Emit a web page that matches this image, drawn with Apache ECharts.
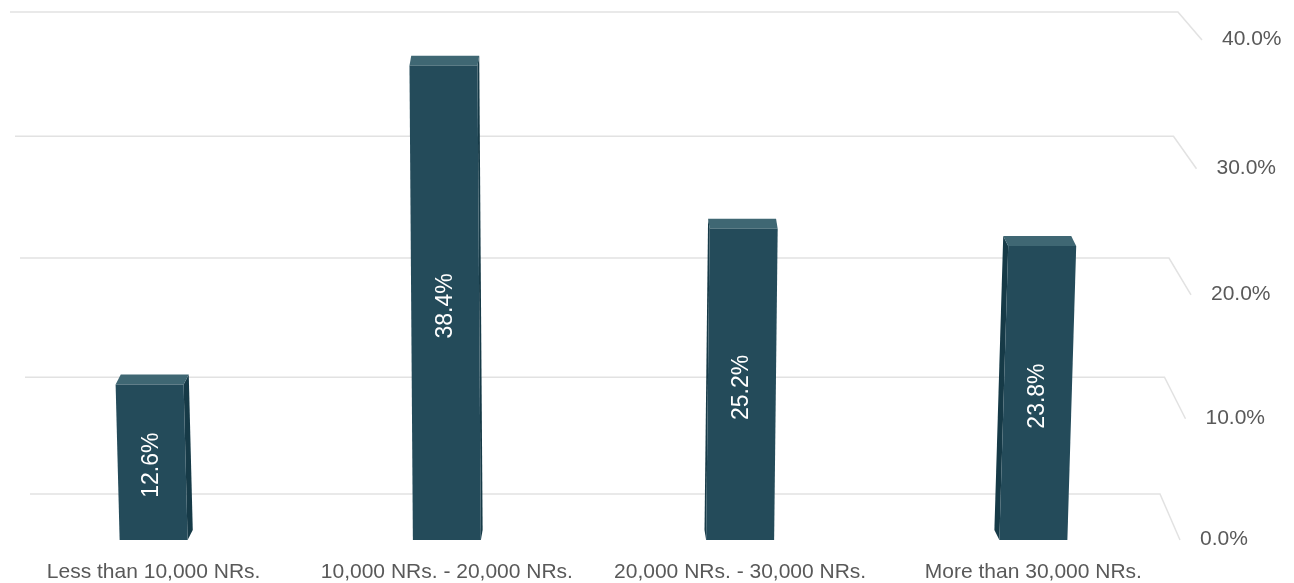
<!DOCTYPE html>
<html>
<head>
<meta charset="utf-8">
<script src="https://cdn.jsdelivr.net/npm/echarts@6/dist/echarts.min.js"></script>
<style>
html,body{margin:0;padding:0;background:#fff;}
#chart{width:1294px;height:583px;}
</style>
</head>
<body>
<div id="chart"></div>
<script>
const categories = ['Less than 10,000 NRs.', '10,000 NRs. - 20,000 NRs.', '20,000 NRs. - 30,000 NRs.', 'More than 30,000 NRs.'];
const values = [12.6, 38.4, 25.2, 23.8];
const yTicks = [0, 10, 20, 30, 40];
const yTickLabels = ['0.0%', '10.0%', '20.0%', '30.0%', '40.0%'];

const FONT = '"Liberation Sans", Arial, sans-serif';

function renderWall(params, api) {
  const cs = params.coordSys;
  const bottom = cs.y + cs.height;
  const right = cs.x + cs.width;
  const v = api.value(1);
  const idx = api.value(2);
  const fy = api.coord([0, v])[1];
  const lin = bottom - fy;
  const frontDrop = 0.9717 * lin + 8.2e-5 * lin * lin;
  const backDrop = 0.9352 * lin + 8.2e-5 * lin * lin;
  const frontX = right + lin * 0.0445;
  const frontY = bottom - frontDrop;
  const backY = bottom - 46 - backDrop;
  const backX = right - 20 + lin * 0.0364;
  const leftX = cs.x + 23 - lin * 0.0405;
  return {
    type: 'group',
    children: [
      {
        type: 'polyline',
        shape: { points: [[leftX, backY], [backX, backY], [frontX, frontY]] },
        style: { stroke: '#e2e2e2', lineWidth: 1.5, fill: null }
      },
      {
        type: 'text',
        x: frontX + 20,
        y: frontY - 0.5,
        style: { text: yTickLabels[idx], fill: '#595959', font: '21px ' + FONT, align: 'left', verticalAlign: 'middle' }
      }
    ]
  };
}

function renderBar(params, api) {
  const i = api.value(0);
  const v = api.value(1);
  const b = api.coord([i, 0]);
  const tp = api.coord([i, v]);
  const cx = b[0];
  const by = b[1];
  const ty = tp[1];
  const h = by - ty;
  const hw = 34;
  const shift = (cx - 560) * 6.35e-5 * h;
  const BL = [cx - hw, by], BR = [cx + hw, by];
  const TL = [cx - hw + shift, ty], TR = [cx + hw + shift, ty];
  const dx = (600 - cx) * 0.0115;
  const dy = -10;
  const add = (p) => [p[0] + dx, p[1] + dy];
  const children = [];
  if (dx > 0.5) {
    children.push({ type: 'polygon', shape: { points: [BR, TR, add(TR), add(BR)] }, style: { fill: '#163a47' } });
  } else if (dx < -0.5) {
    children.push({ type: 'polygon', shape: { points: [BL, TL, add(TL), add(BL)] }, style: { fill: '#163a47' } });
  }
  children.push({ type: 'polygon', shape: { points: [TL, TR, add(TR), add(TL)] }, style: { fill: '#3f6773' } });
  children.push({ type: 'polygon', shape: { points: [BL, BR, TR, TL] }, style: { fill: '#244b5a' } });
  children.push({
    type: 'text',
    x: cx + shift / 2,
    y: (by + ty) / 2 + 3,
    rotation: Math.PI / 2,
    style: { text: v.toFixed(1) + '%', fill: '#ffffff', font: '23px ' + FONT, align: 'center', verticalAlign: 'middle' }
  });
  return { type: 'group', children };
}

const chart = echarts.init(document.getElementById('chart'), null, { renderer: 'canvas' });
chart.setOption({
  animation: false,
  backgroundColor: '#ffffff',
  grid: { left: 7, right: 114, top: 46, bottom: 43 },
  xAxis: {
    type: 'category',
    data: categories,
    axisLine: { show: false },
    axisTick: { show: false },
    splitLine: { show: false },
    axisLabel: { fontSize: 21, color: '#595959', margin: 22, fontFamily: FONT, interval: 0 }
  },
  yAxis: {
    type: 'value',
    min: 0,
    max: 40,
    interval: 10,
    axisLabel: { show: false },
    axisLine: { show: false },
    axisTick: { show: false },
    splitLine: { show: false }
  },
  series: [
    {
      type: 'custom',
      z: 1,
      silent: true,
      renderItem: renderWall,
      encode: { x: 0, y: 1 },
      data: yTicks.map((v, k) => [0, v, k])
    },
    {
      type: 'custom',
      z: 2,
      renderItem: renderBar,
      encode: { x: 0, y: 1 },
      data: values.map((v, k) => [k, v])
    }
  ]
});
</script>
</body>
</html>
